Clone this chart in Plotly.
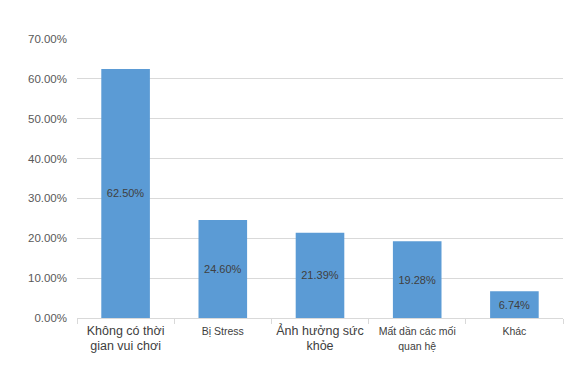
import plotly.graph_objects as go

categories = ["Không có thời gian vui chơi", "Bị Stress", "Ảnh hưởng sức khỏe", "Mất dần các mối quan hệ", "Khác"]
tick_labels = ["Không có thời<br>gian vui chơi", "Bị Stress", "Ảnh hưởng sức<br>khỏe", "Mất dần các mối<br>quan hệ", "Khác"]
tick_sizes = [12.5, 10.5, 12.5, 10.5, 10.5]
values = [62.50, 24.60, 21.39, 19.28, 6.74]
y_ticks = [0, 10, 20, 30, 40, 50, 60, 70]

ticktext = [f'<span style="font-size:{s}px">{t}</span>' for t, s in zip(tick_labels, tick_sizes)]

fig = go.Figure(go.Bar(
    x=categories,
    y=values,
    marker=dict(color="#5B9BD5", line=dict(width=0)),
    text=[f"{v:.2f}%" for v in values],
    textposition="inside",
    insidetextanchor="middle",
    textfont=dict(family="Liberation Sans, Arial", size=11, color="#404040"),
    width=0.5,
))

# page body has an 8px default margin
fig.update_layout(
    width=564, height=362,
    margin=dict(l=69, r=9, t=31, b=52),
    paper_bgcolor="white", plot_bgcolor="white",
    showlegend=False,
    font=dict(family="Liberation Sans, Arial", color="#595959"),
)
fig.update_xaxes(
    tickmode="array", tickvals=categories, ticktext=ticktext,
    showline=True, linecolor="#D9D9D9", linewidth=1,
    ticks="outside", tickson="boundaries", ticklen=5, tickcolor="#D9D9D9",
    tickfont=dict(size=11, color="#404040"),
    ticklabelstandoff=3,
    showgrid=False, automargin=False,
)
fig.update_yaxes(
    range=[0, 70], tickvals=y_ticks, ticktext=[f"{v:.2f}%" for v in y_ticks],
    showgrid=True, gridcolor="#D9D9D9", gridwidth=1,
    zeroline=False, showline=False,
    tickfont=dict(size=11.5, color="#595959"),
    ticks="", ticklabelstandoff=9, automargin=False,
)

fig.write_html("out.html")
